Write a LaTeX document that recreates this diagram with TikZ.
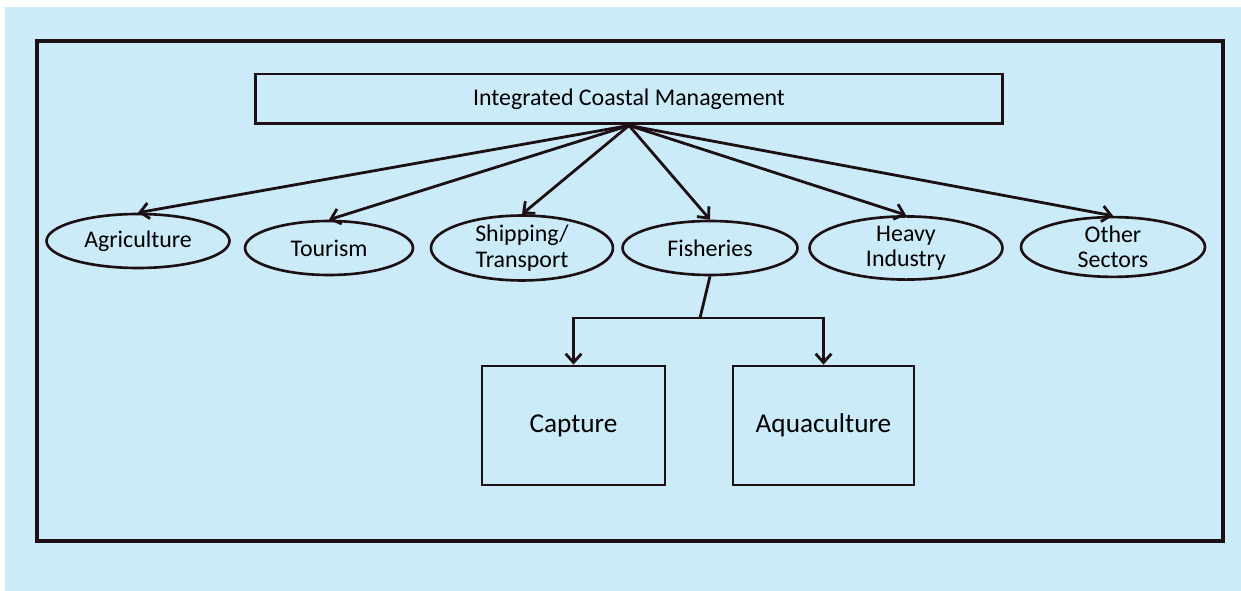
\documentclass[tikz,border=0pt]{standalone}
\usepackage{fontspec}
\setmainfont{Carlito}
\usepackage{tikz}
\usetikzlibrary{positioning,arrows.meta,shapes.geometric}
\definecolor{skyback}{HTML}{CCEBF8}
\definecolor{inkline}{HTML}{1C1014}

\begin{document}
\begin{tikzpicture}[x=0.02cm,y=-0.02cm,font=\fontsize{13.6}{14.5}\selectfont,
            sector/.style={draw=inkline,ellipse,line width=1.5pt,inner sep=0pt,align=center,minimum height=1.08cm},
            box/.style={draw=inkline,line width=1.6pt,inner sep=0pt,minimum height=2.38cm,font=\fontsize{15.5}{17}\selectfont},
            link/.style={draw=inkline,line width=1.6pt,-{Straight Barb[length=5pt,width=9pt,line width=1.6pt]}}]
            \useasboundingbox (0,0) rectangle (1241,591);
            \fill[skyback] (5,7) rectangle (1241,591);
            \draw[inkline,line width=1.8pt] (37,41) rectangle (1223,541);

            \node[draw=inkline,line width=1.7pt,minimum width=14.96cm,minimum height=1cm] (icm) at (629,99) {Integrated Coastal Management};

            \node[sector,minimum width=3.66cm] (agri) at (138,241) {Agriculture};
            \node[sector,minimum width=3.36cm] (tour) at (329,248) {Tourism};
            \node[sector,minimum width=3.64cm] (ship) at (522,248) {Shipping/\\Transport};
            \node[sector,minimum width=3.5cm] (fish) at (710,248) {Fisheries};
            \node[sector,minimum width=3.86cm] (heavy) at (906,248) {Heavy\\Industry};
            \node[sector,minimum width=3.68cm,minimum height=1.12cm] (other) at (1113,247) {Other\\Sectors};

            \node[box,minimum width=3.66cm] (capt) at (573.5,425.5) {Capture};
            \node[box,minimum width=3.62cm] (aqua) at (823.5,425.5) {Aquaculture};

            \foreach \s in {agri,tour,ship,fish,heavy,other}
                \draw[link] (icm.south) -- (\s.north);

            \coordinate (fork) at (700,318);
            \draw[inkline,line width=1.6pt] (fish.south) -- (fork);
            \draw[link] (fork) -| (capt.north);
            \draw[link] (fork) -| (aqua.north);
        \end{tikzpicture}
\end{document}
